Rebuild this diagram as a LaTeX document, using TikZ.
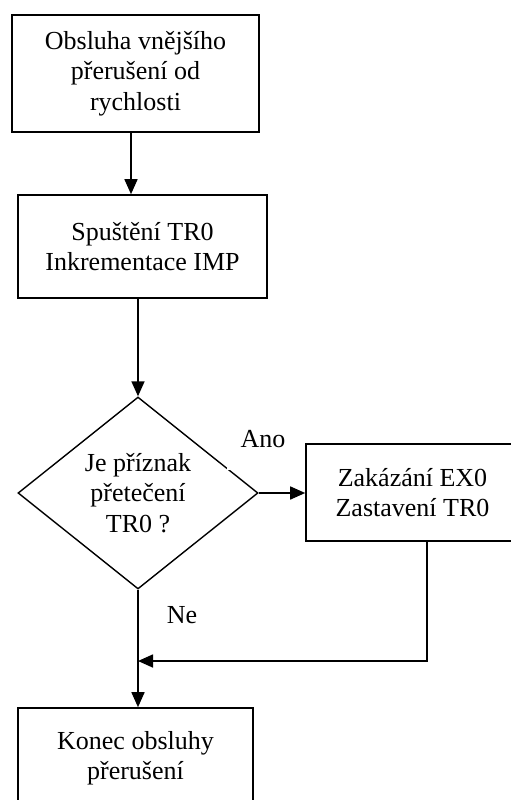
\documentclass[tikz,border=0pt]{standalone}
\usepackage{fontspec}
\setmainfont{Liberation Serif}
\usetikzlibrary{positioning,arrows.meta,shapes.geometric}
\newcommand{\flowfont}{\fontsize{26}{30.5}\selectfont}
\tikzset{
  flowbox/.style={draw=black,line width=1.6pt,rectangle,align=center,
    inner sep=0pt,font=\flowfont},
  flowdecision/.style={draw=black,line width=1.4pt,diamond,aspect=1.26,
    align=center,inner sep=0pt,font=\flowfont},
  flowarrow/.style={-{Triangle[length=15pt,width=13pt]},line width=1.6pt},
  flowlabel/.style={font=\flowfont,fill=white,inner sep=0pt}
}

\begin{document}
\begin{tikzpicture}[x=1pt,y=-1pt]
  \useasboundingbox (0,0) rectangle (511,800);
  \node[flowbox,minimum width=247pt,minimum height=117pt] (start) at (135.5,73.5) {
    Obsluha vnějšího\\přerušení od\\rychlosti};
  \node[flowbox,minimum width=249pt,minimum height=103pt] (spust) at (142.5,246.5) {
    Spuštění TR0\\Inkrementace IMP};
  \node[flowdecision,minimum width=240pt,minimum height=192pt] (dotaz) at (138,493) {
    Je příznak\\přetečení\\TR0 ?};
  \node[flowbox,minimum width=213pt,minimum height=97pt] (zakaz) at (412.5,492.5) {
    Zakázání EX0\\Zastavení TR0};
  \node[flowbox,minimum width=235pt,minimum height=100pt] (konec) at (135.5,758) {
    Konec obsluhy\\přerušení};
  % labels
  \node[flowlabel,minimum width=72pt,minimum height=62pt] (ano) at (263,439) {Ano};
  \node[flowlabel] (ne) at (182,615) {Ne};
  \coordinate (spoj) at (138,661);
  % connectors
  \draw[flowarrow] ([xshift=-4.5pt]start.south) -- ([xshift=-4.5pt]start.south |- spust.north);
  \draw[flowarrow] (dotaz.north |- spust.south) -- (dotaz.north);
  \draw[flowarrow] (dotaz.east) -- (dotaz.east -| zakaz.west);
  \draw[flowarrow] (dotaz.south) -- (dotaz.south |- konec.north);
  \draw[flowarrow] ([xshift=14.5pt]zakaz.south) |- (spoj);
\end{tikzpicture}
\end{document}
